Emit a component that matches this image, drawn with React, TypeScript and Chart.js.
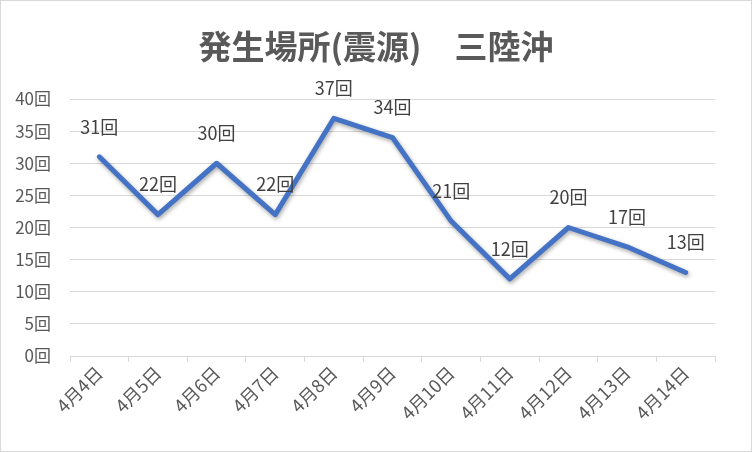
import React, { useEffect, useRef } from "react";
import { Chart, registerables } from "chart.js";

Chart.register(...registerables);

const categories = ["4月4日", "4月5日", "4月6日", "4月7日", "4月8日", "4月9日", "4月10日", "4月11日", "4月12日", "4月13日", "4月14日"];
const counts = [31, 22, 30, 22, 37, 34, 21, 12, 20, 17, 13];
const unit = "回";
const titleText = "発生場所(震源)　三陸沖";

const FONT = "'Noto Sans CJK JP', 'Noto Sans', sans-serif";

const labelPlugin = {
  id: "valueLabels",
  afterDatasetsDraw(chart: any) {
    const ctx = chart.ctx;
    const meta = chart.getDatasetMeta(0);
    ctx.save();
    ctx.font = `18px ${FONT}`;
    ctx.fillStyle = "#404040";
    ctx.textAlign = "center";
    ctx.textBaseline = "middle";
    meta.data.forEach((pt: any, i: number) => {
      ctx.fillText(`${counts[i]}${unit}`, pt.x, pt.y - 30);
    });
    ctx.restore();
  },
};

const titlePlugin = {
  id: "centerTitle",
  afterDraw(chart: any) {
    const ctx = chart.ctx;
    ctx.save();
    ctx.font = `bold 33px ${FONT}`;
    ctx.fillStyle = "#595959";
    ctx.textAlign = "center";
    ctx.textBaseline = "middle";
    ctx.fillText(titleText, chart.width / 2, 45);
    ctx.restore();
  },
};

const shadowPlugin = {
  id: "lineShadow",
  beforeDatasetDraw(chart: any) {
    const ctx = chart.ctx;
    ctx.save();
    ctx.shadowColor = "rgba(0,0,0,0.35)";
    ctx.shadowBlur = 4;
    ctx.shadowOffsetX = 1;
    ctx.shadowOffsetY = 2;
  },
  afterDatasetDraw(chart: any) {
    chart.ctx.restore();
  },
};

export default function App() {
  const ref = useRef<HTMLCanvasElement | null>(null);
  useEffect(() => {
    document.body.style.margin = "0";
    const chart = new Chart(ref.current!, {
      type: "line",
      data: {
        labels: categories,
        datasets: [
          {
            data: counts,
            borderColor: "#4472C4",
            borderWidth: 5,
            pointRadius: 0,
            tension: 0,
            borderJoinStyle: "round",
            borderCapStyle: "round",
          },
        ],
      },
      options: {
        animation: false,
        responsive: false,
        layout: { padding: { left: 0, right: 36, top: 98, bottom: 5 } },
        plugins: {
          legend: { display: false },
          tooltip: { enabled: false },
          title: { display: false },
        },
        scales: {
          x: {
            offset: true,
            afterFit: (s: any) => { s.height = 90; },
            grid: {
              offset: true,
              drawOnChartArea: false,
              drawTicks: true,
              tickLength: 6,
              color: "#d9d9d9",
            },
            border: { display: true, color: "#d9d9d9", width: 1 },
            ticks: {
              color: "#595959",
              font: { family: FONT, size: 18 },
              minRotation: 45,
              maxRotation: 45,
              padding: 0,
            },
          },
          y: {
            min: 0,
            max: 40,
            afterFit: (s: any) => { s.width = 69; },
            grid: { color: "#d9d9d9", lineWidth: 1, drawTicks: false },
            border: { display: false },
            ticks: {
              stepSize: 5,
              color: "#595959",
              font: { family: FONT, size: 17 },
              padding: 19,
              callback: (v: any) => `${v}${unit}`,
            },
          },
        },
      },
      plugins: [shadowPlugin, labelPlugin, titlePlugin],
    });
    return () => chart.destroy();
  }, []);
  return (
    <div style={{ position: "relative", width: 752, height: 452, boxSizing: "border-box", border: "1px solid #d9d9d9", background: "#fff" }}>
      <canvas ref={ref} width={750} height={450} style={{ display: "block" }} />
    </div>
  );
}
